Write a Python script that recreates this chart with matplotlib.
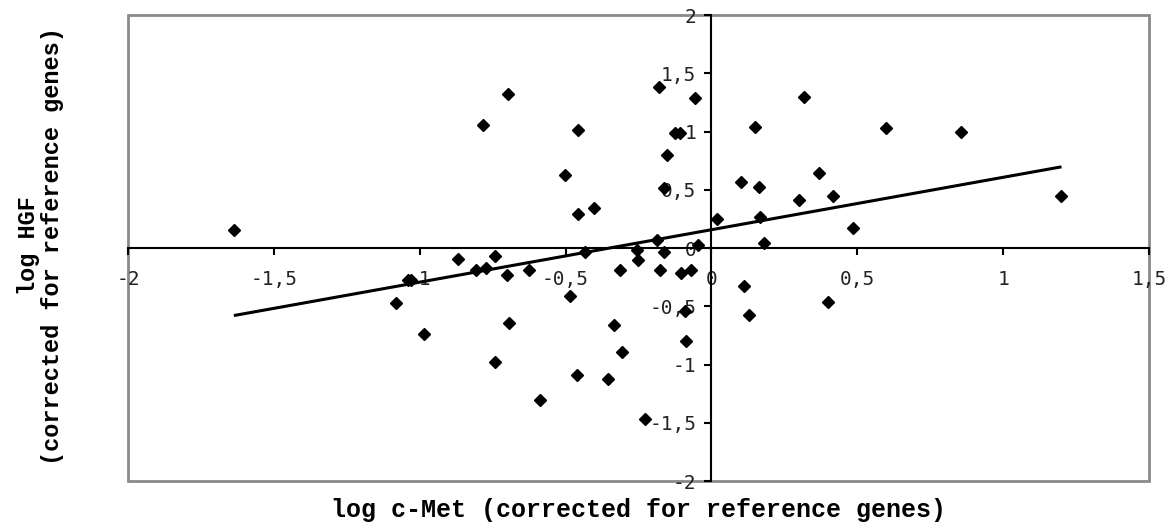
import numpy as np
import matplotlib
matplotlib.use("Agg")
import matplotlib.pyplot as plt
from matplotlib.patches import Rectangle

# log c-Met vs log HGF (both corrected for reference genes)
cmet = [-1.637, -0.782, -0.697, -0.456, -0.501, -0.456, -0.404, -0.181, -0.055,
        -0.125, -0.108, -0.152, -0.164, -0.186, -0.047,
        -0.432, -0.255, -0.164, -0.870, -0.743, -0.807, -0.773, -0.699,
        -1.040, -1.030, -1.082, -0.985, -0.743, -0.693, -0.627, -0.587,
        -0.485, -0.462, -0.356, -0.335, -0.306, -0.312, -0.250, -0.175,
        -0.104, -0.070, -0.090, -0.087, -0.228,
        0.020, 0.102, 0.150, 0.162, 0.167, 0.180, 0.319, 0.300, 0.368,
        0.416, 0.485, 0.600, 0.857, 1.200, 0.113, 0.128, 0.400]
hgf = [0.157, 1.057, 1.320, 1.017, 0.629, 0.290, 0.343, 1.386, 1.289,
       0.990, 0.990, 0.800, 0.515, 0.065, 0.028,
       -0.030, -0.020, -0.030, -0.092, -0.072, -0.186, -0.172, -0.229,
       -0.272, -0.272, -0.472, -0.738, -0.981, -0.643, -0.186, -1.307,
       -0.415, -1.093, -1.121, -0.664, -0.892, -0.186, -0.106, -0.186,
       -0.214, -0.186, -0.544, -0.800, -1.467,
       0.250, 0.571, 1.043, 0.528, 0.266, 0.043, 1.300, 0.414, 0.643,
       0.443, 0.171, 1.034, 1.000, 0.443, -0.329, -0.578, -0.463]

# linear trend as drawn in the figure
trend_slope = 0.45
trend_intercept = 0.157

x_ticks = [-2, -1.5, -1, -0.5, 0, 0.5, 1, 1.5]
x_tick_labels = ["-2", "-1,5", "-1", "-0,5", "0", "0,5", "1", "1,5"]
y_ticks = [-2, -1.5, -1, -0.5, 0, 0.5, 1, 1.5, 2]
y_tick_labels = ["-2", "-1,5", "-1", "-0,5", "0", "0,5", "1", "1,5", "2"]

TICK_FONT = "DejaVu Sans Mono"
LABEL_FONT = "Liberation Mono"

fig = plt.figure(figsize=(11.74, 5.29), dpi=100)
ax = fig.add_axes([0.109, 0.0907, 0.8697, 0.8809])

ax.plot(cmet, hgf, linestyle="none", marker="D", ms=6.2, color="black")

xs = np.array([min(cmet), max(cmet)])
ax.plot(xs, trend_slope * xs + trend_intercept, color="black", lw=2.2,
        solid_capstyle="butt")

ax.set_xlim(-2, 1.5)
ax.set_ylim(-2, 2)

# axes crossing at the origin
for side in ["left", "bottom"]:
    ax.spines[side].set_position(("data", 0))
    ax.spines[side].set_linewidth(1.5)
ax.spines[["top", "right"]].set_visible(False)
ax.add_patch(Rectangle((0, 0), 1, 1, transform=ax.transAxes, fill=False,
                       edgecolor="#8a8a8a", lw=2, clip_on=False, zorder=0))

ax.set_xticks(x_ticks)
ax.set_xticklabels(x_tick_labels, family=TICK_FONT, fontsize=14, color="#222222")
ax.set_yticks(y_ticks)
ax.set_yticklabels(y_tick_labels, family=TICK_FONT, fontsize=14, color="#222222")
ax.tick_params(axis="both", direction="out", length=5, width=1.5, pad=11)
ax.tick_params(axis="y", pad=6)

fig.text(0.5435, 0.035, "log c-Met (corrected for reference genes)",
         family=LABEL_FONT, fontweight="bold", fontsize=18,
         ha="center", va="center")
fig.text(0.024, 0.535, "log HGF", family=LABEL_FONT, fontweight="bold",
         fontsize=17, rotation=90, ha="center", va="center")
fig.text(0.045, 0.535, "(corrected for reference genes)", family=LABEL_FONT,
         fontweight="bold", fontsize=17, rotation=90, ha="center", va="center")

fig.savefig("out.png", dpi=100)
